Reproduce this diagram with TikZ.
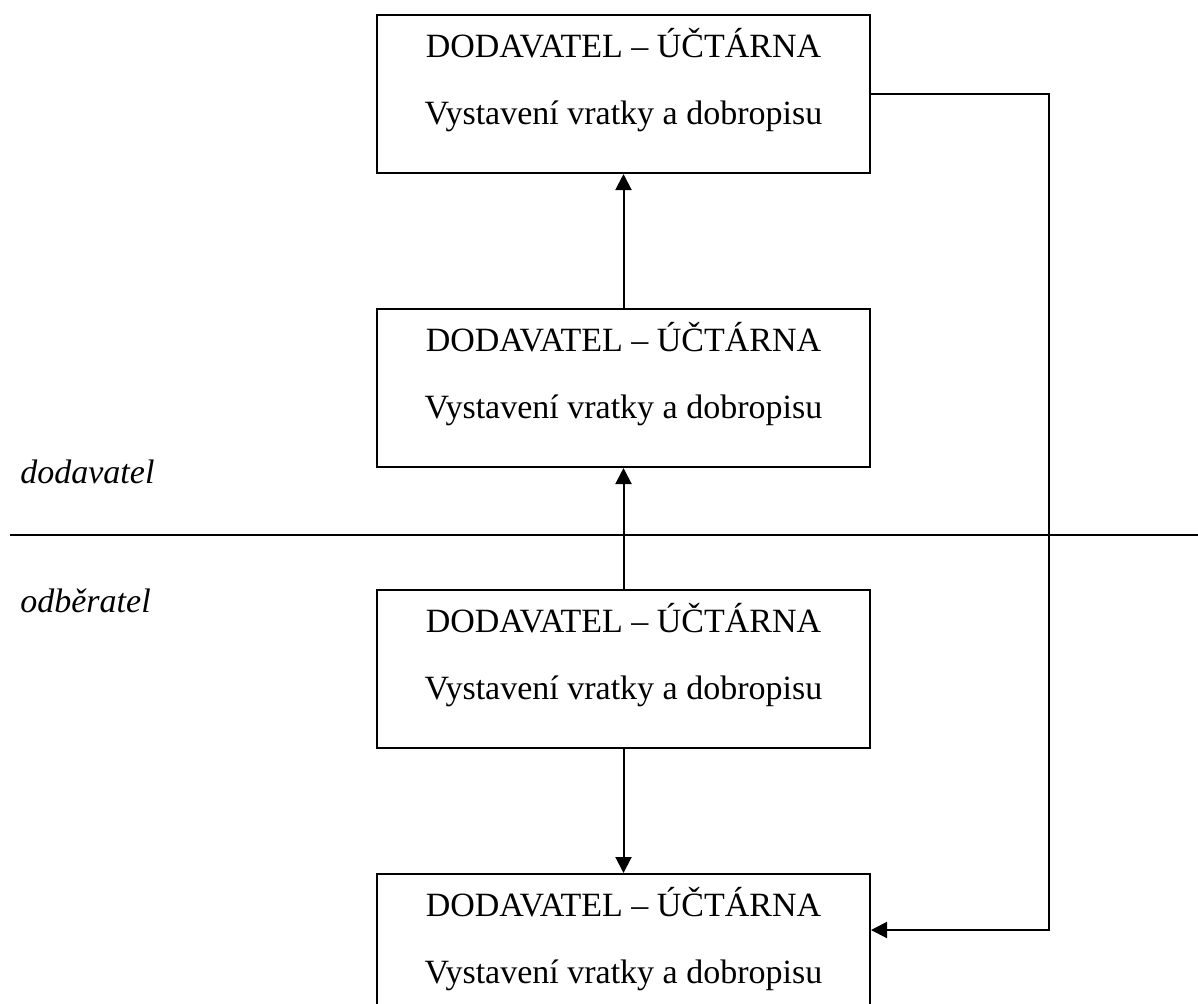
\documentclass[tikz,border=0pt]{standalone}
\usepackage{fontspec}
\setmainfont{Liberation Serif}
\usetikzlibrary{arrows.meta, positioning}

\begin{document}
\begin{tikzpicture}[x=0.5pt, y=-0.5pt,
			box/.style={draw, line width=1pt, minimum width=246.5pt,
				minimum height=79pt, inner sep=0pt},
			boxtext/.style={anchor=north, inner sep=0pt, align=center,
				font=\fontsize{17}{33.5}\selectfont},
			side/.style={anchor=base west, inner sep=0pt,
				font=\fontsize{17}{20}\selectfont\itshape},
			arr/.style={-{Triangle[length=8pt, width=8pt]}, line width=1pt},
			sep/.style={line width=1.2pt},
			]
			\path[use as bounding box, clip] (0,0) rectangle (1198,1003);
			% =============================================================
			%  BOXES
			% =============================================================
			\node[box] (dod1) at (623.5,94) {};
			\node[box, below=67pt of dod1] (dod2) {};
			\node[box, below=60.5pt of dod2] (dod3) {};
			\node[box, below=62pt of dod3] (dod4) {};

			% --- texts, hung from the top edge ---
			\node[boxtext] (dod1t) at (dod1.north)
			{\rule{0pt}{21.5pt}DODAVATEL -- ÚČTÁRNA\\Vystavení vratky a dobropisu};
			\node[boxtext] (dod2t) at (dod2.north)
			{\rule{0pt}{21.5pt}DODAVATEL -- ÚČTÁRNA\\Vystavení vratky a dobropisu};
			\node[boxtext] (dod3t) at (dod3.north)
			{\rule{0pt}{21.5pt}DODAVATEL -- ÚČTÁRNA\\Vystavení vratky a dobropisu};
			\node[boxtext] (dod4t) at (dod4.north)
			{\rule{0pt}{21.5pt}DODAVATEL -- ÚČTÁRNA\\Vystavení vratky a dobropisu};

			% =============================================================
			%  SIDES
			% =============================================================
			\coordinate (sepl) at (10,535);
			\coordinate (sepr) at (1198,535);
			\draw[sep] (sepl) -- (sepr);
			\node[side] (supplier) at (20,483) {dodavatel};
			\node[side] (customer) at (20,612) {odběratel};

			% ---- ARROWS ----
			\draw[arr] (dod2) -- (dod1);
			\draw[arr] (dod3) -- (dod2);
			\draw[arr] (dod3) -- (dod4);
			\coordinate (rail) at (1049,0);
			\coordinate (retin) at ([yshift=-28.5pt]dod4.north east);
			\draw[arr] (dod1.east) -| (rail |- retin) -- (retin);
		\end{tikzpicture}
\end{document}
